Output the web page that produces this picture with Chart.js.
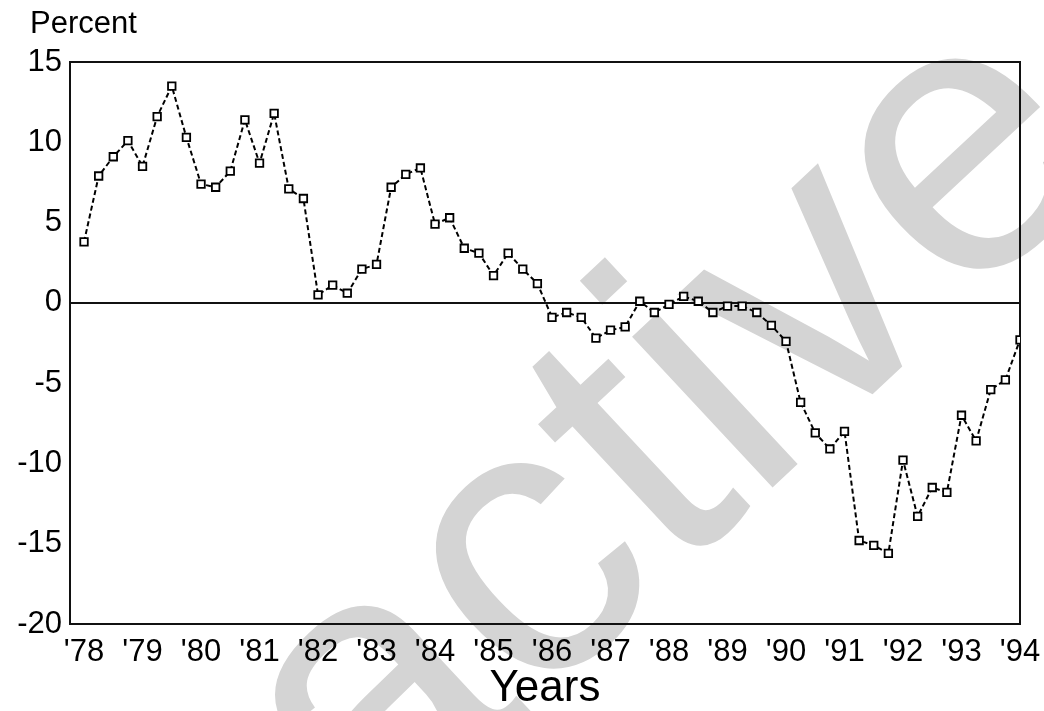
<!DOCTYPE html>
<html>
<head>
<meta charset="utf-8">
<script src="https://cdn.jsdelivr.net/npm/chart.js@4/dist/chart.umd.min.js"></script>
<style>
  html, body { margin: 0; padding: 0; background: #fff; }
  #wrap { width: 1044px; height: 711px; }
</style>
</head>
<body>
<div id="wrap"><canvas id="c" width="1044" height="711"></canvas></div>
<script>
// ---- Data (quarterly, 1978Q1 .. 1994Q1) ----
const startYear = 1978;
const years = [1978, 1979, 1980, 1981, 1982, 1983, 1984, 1985, 1986, 1987, 1988, 1989, 1990, 1991, 1992, 1993, 1994];
const yearLabels = ["'78", "'79", "'80", "'81", "'82", "'83", "'84", "'85", "'86", "'87", "'88", "'89", "'90", "'91", "'92", "'93", "'94"];
const yTicks = [-20, -15, -10, -5, 0, 5, 10, 15];
const percentValues = [
  3.8, 7.9, 9.1, 10.1,
  8.5, 11.6, 13.5, 10.3,
  7.4, 7.2, 8.2, 11.4,
  8.7, 11.8, 7.1, 6.5,
  0.5, 1.1, 0.6, 2.1,
  2.4, 7.2, 8.0, 8.4,
  4.9, 5.3, 3.4, 3.1,
  1.7, 3.1, 2.1, 1.2,
  -0.9, -0.6, -0.9, -2.2,
  -1.7, -1.5, 0.1, -0.6,
  -0.1, 0.4, 0.1, -0.6,
  -0.2, -0.2, -0.6, -1.4,
  -2.4, -6.2, -8.1, -9.1,
  -8.0, -14.8, -15.1, -15.6,
  -9.8, -13.3, -11.5, -11.8,
  -7.0, -8.6, -5.4, -4.8,
  -2.3
];
const watermarkText = 'active';

const FONT = "'Liberation Sans', Arial, Helvetica, sans-serif";

const points = percentValues.map((v, i) => ({ x: startYear + i / 4, y: v }));

const frame = {
  id: 'frame',
  beforeDraw(chart) {
    const { ctx } = chart;
    ctx.save();
    ctx.fillStyle = '#d4d4d4';
    ctx.font = '390px ' + FONT;
    ctx.textAlign = 'left';
    ctx.textBaseline = 'alphabetic';
    ctx.translate(373, 860);
    ctx.rotate(-43 * Math.PI / 180);
    ctx.fillText(watermarkText, 0, 0);
    ctx.restore();
  },
  beforeDatasetsDraw(chart) {
    const { ctx, chartArea: a, scales } = chart;
    ctx.save();
    ctx.strokeStyle = '#111';
    ctx.lineWidth = 2;
    ctx.strokeRect(a.left, a.top, a.right - a.left, a.bottom - a.top);
    const y0 = Math.round(scales.y.getPixelForValue(0));
    ctx.beginPath();
    ctx.moveTo(a.left, y0);
    ctx.lineTo(a.right, y0);
    ctx.stroke();
    ctx.restore();
  },
  afterDraw(chart) {
    const { ctx } = chart;
    ctx.save();
    ctx.fillStyle = '#000';
    ctx.font = '31px ' + FONT;
    ctx.textAlign = 'left';
    ctx.textBaseline = 'alphabetic';
    ctx.fillText('Percent', 30, 33);
    ctx.restore();
  }
};

new Chart(document.getElementById('c'), {
  type: 'line',
  data: {
    datasets: [{
      data: points,
      borderColor: '#000',
      borderWidth: 2,
      borderDash: [5, 3],
      pointStyle: 'rect',
      pointRadius: 5.3,
      pointBorderWidth: 1.8,
      pointBorderColor: '#000',
      pointBackgroundColor: '#fff',
      tension: 0,
      fill: false
    }]
  },
  options: {
    responsive: false,
    animation: false,
    events: [],
    layout: { padding: { left: 0, right: 24, top: 62, bottom: 0 } },
    plugins: { legend: { display: false }, tooltip: { enabled: false } },
    scales: {
      x: {
        type: 'linear',
        min: 1977.76,
        max: 1994,
        afterFit(scale) { scale.height = 87; scale.paddingLeft = 0; scale.paddingRight = 0; },
        afterBuildTicks(scale) { scale.ticks = years.map(v => ({ value: v })); },
        grid: { display: false, drawTicks: false },
        border: { display: false },
        ticks: {
          autoSkip: false,
          maxRotation: 0,
          padding: 10,
          color: '#000',
          font: { family: FONT, size: 31 },
          callback(v) { const i = years.indexOf(v); return i >= 0 ? yearLabels[i] : ''; }
        },
        title: {
          display: true,
          text: 'Years',
          color: '#000',
          padding: { top: 0, bottom: 0 },
          font: { family: FONT, size: 44, lineHeight: 1 }
        }
      },
      y: {
        min: -20,
        max: 15,
        afterFit(scale) { scale.width = 70; },
        afterBuildTicks(scale) { scale.ticks = yTicks.map(v => ({ value: v })); },
        grid: { display: false, drawTicks: false },
        border: { display: false },
        ticks: {
          padding: 8,
          color: '#000',
          font: { family: FONT, size: 31 },
          callback(v) { return String(v); }
        }
      }
    }
  },
  plugins: [frame]
});
</script>
</body>
</html>
